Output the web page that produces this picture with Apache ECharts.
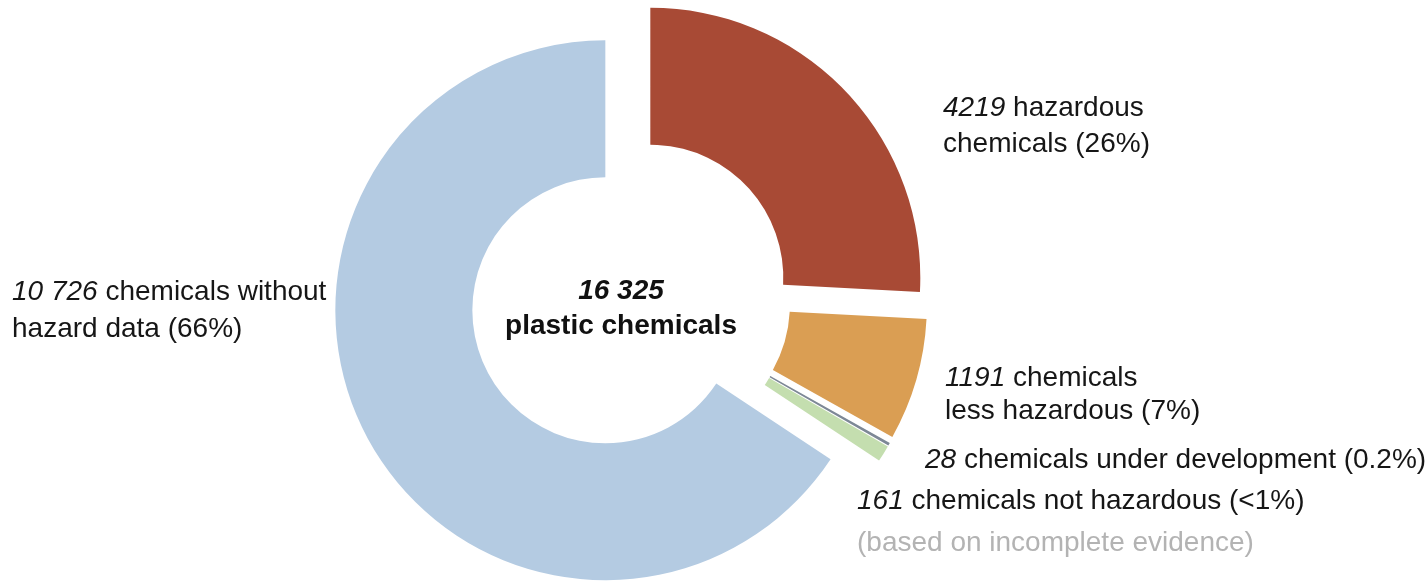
<!DOCTYPE html>
<html>
<head>
<meta charset="utf-8">
<script src="https://cdn.jsdelivr.net/npm/echarts@6/dist/echarts.min.js"></script>
<style>
html,body{margin:0;padding:0;background:#fff;}
#c{width:1427px;height:582px;}
</style>
</head>
<body>
<div id="c"></div>
<script>
// ---- data ----
const categories = ['hazardous', 'less hazardous', 'under development', 'not hazardous', 'without hazard data'];
const counts = [4219, 1191, 28, 161, 10726];
const shares = ['26%', '7%', '0.2%', '<1%', '66%'];
const labelLines = [
  ['{n|# }{t|hazardous}', '{t|chemicals (%)}'],
  ['{n|# }{t|chemicals}', '{t|less hazardous (%)}'],
  ['{n|# }{t|chemicals under development (%)}'],
  ['{n|# }{t|chemicals not hazardous (%)}', '{g|(based on incomplete evidence)}'],
  ['{n|# }{t|chemicals without}', '{t|hazard data (%)}']
];
const centerLines = ['{b|#}', '{c|plastic chemicals}'];

// ---- styles / layout ----
const colors = ['#A84A35', '#DA9E53', '#7D8896', '#C4DEAF', '#B4CBE2'];
const labelPos = [
  {x: 943, y: 90, lh: 36},
  {x: 945, y: 362, lh: 33},
  {x: 925, y: 443, lh: 34},
  {x: 857, y: 480, lh: 42},
  {x: 12, y: 274, lh: 37}
];
const FONT = "'Liberation Sans', Arial, Helvetica, sans-serif";
const FS = 28;

function fmt(v) {
  return v >= 10000 ? String(v).replace(/\B(?=(\d{3})+(?!\d))/g, ' ') : String(v);
}
function makeRich(lh) {
  return {
    n: {fontStyle: 'italic', fontSize: FS, fontFamily: FONT, fill: '#161616', lineHeight: lh},
    t: {fontSize: FS, fontFamily: FONT, fill: '#161616', lineHeight: lh},
    g: {fontSize: FS, fontFamily: FONT, fill: '#b3b3b3', lineHeight: lh}
  };
}

const total = counts.reduce((a, b) => a + b, 0);

const data = categories.map((name, i) => ({
  name: name,
  value: counts[i],
  selected: true,
  itemStyle: {color: colors[i]}
}));

const labelGraphics = categories.map((name, i) => ({
  type: 'text',
  x: labelPos[i].x,
  y: labelPos[i].y,
  silent: true,
  style: {
    text: labelLines[i].join('\n').replace('#', fmt(counts[i])).replace('%)', shares[i] + ')'),
    align: 'left',
    verticalAlign: 'top',
    rich: makeRich(labelPos[i].lh)
  }
}));

const chart = echarts.init(document.getElementById('c'), null, {renderer: 'canvas'});
chart.setOption({
  animation: false,
  backgroundColor: '#ffffff',
  series: [{
    type: 'pie',
    center: [630, 297],
    radius: [133, 270],
    startAngle: 90,
    clockwise: true,
    selectedMode: 'multiple',
    selectedOffset: 28,
    silent: true,
    itemStyle: {borderWidth: 0},
    label: {show: false},
    labelLine: {show: false},
    emphasis: {disabled: true},
    data: data
  }],
  graphic: labelGraphics.concat([{
    type: 'text',
    x: 621,
    y: 309,
    silent: true,
    style: {
      text: centerLines.join('\n').replace('#', fmt(total)),
      align: 'center',
      verticalAlign: 'middle',
      rich: {
        b: {fontSize: FS, fontWeight: 'bold', fontStyle: 'italic', fontFamily: FONT, fill: '#111', lineHeight: 35, align: 'center'},
        c: {fontSize: FS, fontWeight: 'bold', fontFamily: FONT, fill: '#111', lineHeight: 35, align: 'center'}
      }
    }
  }])
});
</script>
</body>
</html>
